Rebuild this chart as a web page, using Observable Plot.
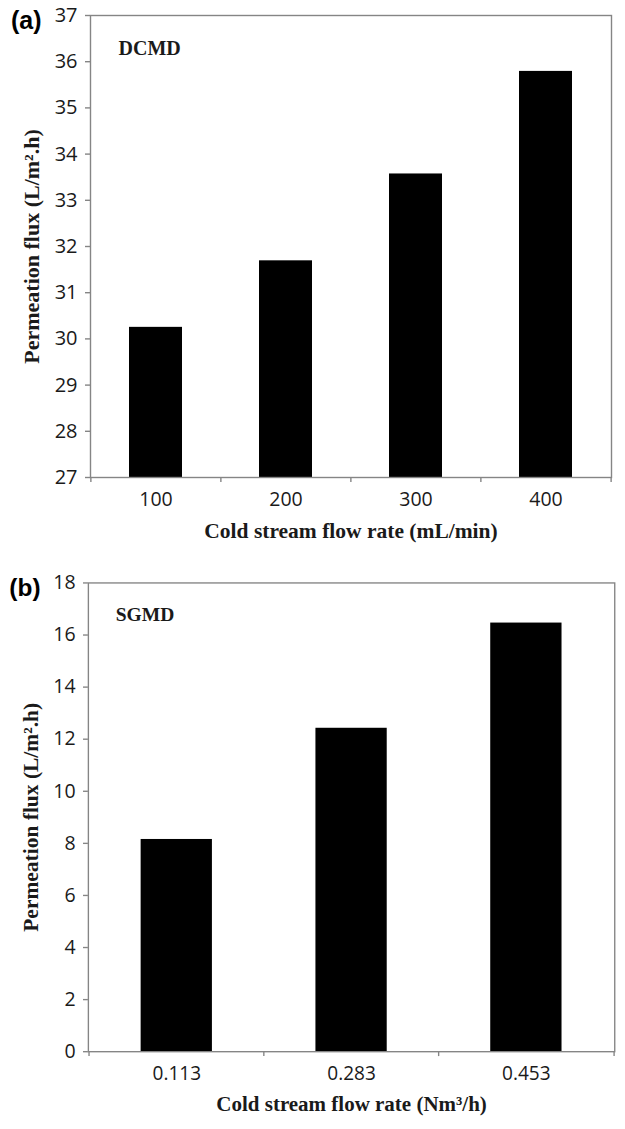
<!DOCTYPE html>
<html>
<head>
<meta charset="utf-8">
<script src="https://cdn.jsdelivr.net/npm/d3@7"></script>
<script src="https://cdn.jsdelivr.net/npm/@observablehq/plot@0.6"></script>
<style>
  html, body { margin: 0; padding: 0; background: #fff; overflow: hidden; width: 625px; height: 1129px; }
  #wrap > svg { display: block; }
</style>
</head>
<body>
<div id="wrap"></div>
<script>
// ---- Data ----
const catsA = ["100", "200", "300", "400"];
const fluxA = [30.25, 31.69, 33.57, 35.79];
const ticksA = [27, 28, 29, 30, 31, 32, 33, 34, 35, 36, 37];
const panelA = "(a)";
const tagA = "DCMD";
const xTitleA = "Cold stream flow rate (mL/min)";

const catsB = ["0.113", "0.283", "0.453"];
const fluxB = [8.15, 12.42, 16.46];
const ticksB = [0, 2, 4, 6, 8, 10, 12, 14, 16, 18];
const panelB = "(b)";
const tagB = "SGMD";
const xTitleB = "Cold stream flow rate (Nm\u00B3/h)";

const yTitle = "Permeation flux (L/m\u00B2.h)";

// ---- Styles ----
const gray = "#858585";
const ink = "#1a1a1a";
const tickFont = "'Open Sans', sans-serif";
const serif = "'Liberation Serif', 'Times New Roman', serif";

function panel({cats, flux, ticks, label, tag, xTitle, width, height, mt, mb, ml, mr}) {
  const data = cats.map((c, i) => ({cat: c, v: flux[i]}));
  const yMin = ticks[0], yMax = ticks[ticks.length - 1];
  const step = (width - ml - mr) / cats.length; // band step (paddingInner = 2*paddingOuter)
  return Plot.plot({
    width, height,
    marginTop: mt, marginBottom: mb, marginLeft: ml, marginRight: mr,
    style: {background: "#fff", color: ink},
    x: {type: "band", domain: cats, paddingInner: 0.59, paddingOuter: 0.295, axis: null},
    y: {domain: [yMin, yMax], axis: null},
    marks: [
      Plot.barY(data, {x: "cat", y1: yMin, y2: "v", fill: "#000"}),
      Plot.frame({stroke: gray, strokeWidth: 1.4}),
      Plot.axisY({ticks, tickSize: 5, tickPadding: 8, stroke: gray, strokeWidth: 1.4,
        fontSize: 20, fontFamily: tickFont, fill: ink, tickFormat: d => String(d), label: null}),
      Plot.axisX({tickSize: 0, tickPadding: 15, fontSize: 19.5, fontFamily: tickFont, fill: ink, label: null}),
      // Excel-style category boundary ticks
      Plot.ruleX(cats, {x: d => d, y1: yMin, y2: yMin, insetBottom: -5, dx: -step / 2, stroke: gray, strokeWidth: 1.4}),
      Plot.ruleX(cats.slice(-1), {x: d => d, y1: yMin, y2: yMin, insetBottom: -5, dx: step / 2, stroke: gray, strokeWidth: 1.4}),
      // panel tag inside plot
      Plot.text([tag], {frameAnchor: "top-left", text: d => d, textAnchor: "start", lineAnchor: "bottom",
        dx: 28, dy: 39, fontFamily: serif, fontWeight: "bold", fontSize: 20, fill: ink}),
      // panel letter
      Plot.text([label], {frameAnchor: "top-left", text: d => d, textAnchor: "end", lineAnchor: "middle",
        dx: -49, dy: 5, fontFamily: "'Liberation Sans', Arial, sans-serif", fontWeight: "bold", fontSize: 25, fill: "#000"}),
      // x title
      Plot.text([xTitle], {frameAnchor: "bottom", text: d => d, textAnchor: "middle", lineAnchor: "middle",
        dy: 54, fontFamily: serif, fontWeight: "bold", fontSize: 21.5, fill: ink}),
      // y title
      Plot.text([yTitle], {frameAnchor: "left", text: d => d, rotate: -90, textAnchor: "middle", lineAnchor: "middle",
        dx: -59, fontFamily: serif, fontWeight: "bold", fontSize: 22, fill: ink})
    ]
  });
}

const wrap = document.getElementById("wrap");
wrap.appendChild(panel({cats: catsA, flux: fluxA, ticks: ticksA, label: panelA, tag: tagA, xTitle: xTitleA,
  width: 625, height: 560, mt: 15, mb: 83, ml: 90, mr: 14}));
wrap.appendChild(panel({cats: catsB, flux: fluxB, ticks: ticksB, label: panelB, tag: tagB, xTitle: xTitleB,
  width: 640, height: 569, mt: 23, mb: 66, ml: 90, mr: 11}));
</script>
</body>
</html>
